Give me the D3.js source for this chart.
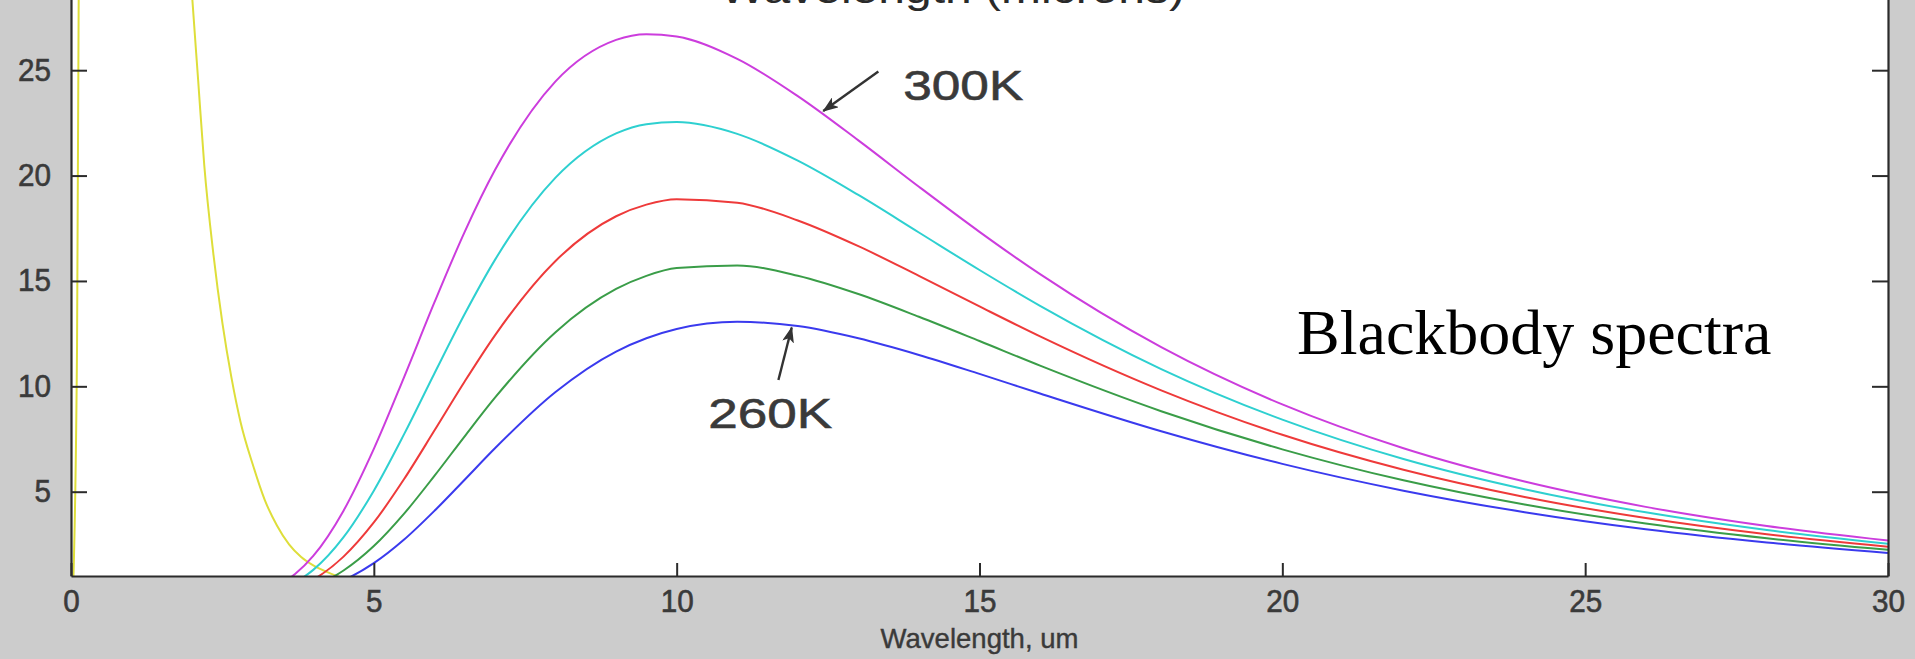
<!DOCTYPE html>
<html>
<head>
<meta charset="utf-8">
<script src="https://cdn.jsdelivr.net/npm/d3@7"></script>
<style>
  html, body { margin: 0; padding: 0; background: #cccccc; overflow: hidden; }
  svg { display: block; }
</style>
</head>
<body>
<div id="chart"></div>
<script>
// Longitudes de onda (um) compartidas por las curvas de cuerpo negro
const wavelength = [3.4, 3.7, 4, 4.5, 5, 5.5, 6, 6.5, 7, 8, 9, 9.5, 10, 11, 12, 13, 14, 15, 16, 18, 20, 22, 24, 26, 28, 30];

// Radiancia, una lista por temperatura
const t300 = [0.53, 1.09, 1.95, 4.10, 7.03, 10.44, 13.98, 17.33, 20.26, 24.47, 26.44, 26.71, 26.60, 25.54, 23.77, 21.67, 19.47, 17.33, 15.32, 11.86, 9.14, 7.06, 5.48, 4.28, 3.37, 2.68];
const t290 = [0.33, 0.70, 1.29, 2.84, 5.05, 7.73, 10.61, 13.43, 16.00, 19.90, 22.00, 22.44, 22.54, 21.98, 20.71, 19.08, 17.30, 15.52, 13.82, 10.82, 8.42, 6.55, 5.12, 4.02, 3.18, 2.53];
const t280 = [0.19, 0.43, 0.83, 1.92, 3.54, 5.60, 7.90, 10.23, 12.42, 15.95, 18.07, 18.62, 18.88, 18.71, 17.87, 16.65, 15.24, 13.79, 12.37, 9.81, 7.70, 6.04, 4.75, 3.75, 2.98, 2.39];
const t270 = [0.11, 0.26, 0.51, 1.26, 2.42, 3.96, 5.75, 7.63, 9.46, 12.57, 14.62, 15.24, 15.61, 15.73, 15.25, 14.38, 13.30, 12.15, 10.98, 8.82, 7.01, 5.54, 4.39, 3.49, 2.79, 2.24];
const t260 = [0.06, 0.15, 0.31, 0.80, 1.61, 2.73, 4.09, 5.57, 7.06, 9.73, 11.65, 12.28, 12.72, 13.06, 12.86, 12.28, 11.49, 10.59, 9.66, 7.87, 6.32, 5.05, 4.03, 3.22, 2.59, 2.09];

// Curva amarilla (sol), sale por arriba y vuelve a bajar
const solarWavelength = [0.03, 0.1, 0.16, 1.0, 1.7, 1.9, 2.0, 2.1, 2.2, 2.35, 2.5, 2.65, 2.8, 3.0, 3.2, 3.4, 3.6, 3.8, 4.0, 4.3, 4.6];
const solarValue = [0, 12, 45, 60, 45, 33, 28.5, 24.5, 20.5, 16.3, 13.0, 10.4, 8.3, 6.3, 4.6, 3.4, 2.5, 1.9, 1.5, 1.1, 0.8];

// Ejes
const xTicks = [0, 5, 10, 15, 20, 25, 30];
const yTicks = [5, 10, 15, 20, 25];

const width = 1915;
const height = 659;
const plot = { left: 71, right: 1888, bottom: 576 };
const font = "'Liberation Sans', Arial, sans-serif";

const x = d3.scaleLinear().domain([0, 30]).range([plot.left, plot.right]);
const y = d3.scaleLinear().domain([1, 30]).range([plot.bottom, plot.bottom - 29 * 21.075]);

const svg = d3.select("#chart")
    .append("svg")
    .attr("width", width)
    .attr("height", height);

svg.append("rect")
    .attr("width", width).attr("height", height)
    .attr("fill", "#cccccc");

// Area blanca del grafico
svg.append("rect")
    .attr("x", plot.left).attr("y", y(30))
    .attr("width", plot.right - plot.left)
    .attr("height", plot.bottom - y(30))
    .attr("fill", "#ffffff");

svg.append("clipPath").attr("id", "clip")
    .append("rect")
    .attr("x", plot.left).attr("y", y(30))
    .attr("width", plot.right - plot.left)
    .attr("height", plot.bottom - y(30));

const line = d3.line()
    .x(d => x(d[0]))
    .y(d => y(d[1]))
    .curve(d3.curveMonotoneX);

const series = [
    { values: solarValue, lambda: solarWavelength, color: '#dede3a' },
    { values: t260, lambda: wavelength, color: '#3a3aee' },
    { values: t270, lambda: wavelength, color: '#3a9d48' },
    { values: t280, lambda: wavelength, color: '#ee3a3a' },
    { values: t290, lambda: wavelength, color: '#2ed0d0' },
    { values: t300, lambda: wavelength, color: '#cc3ddd' }
];

const curves = svg.append("g").attr("clip-path", "url(#clip)");
series.forEach(s => {
    curves.append("path")
        .datum(s.lambda.map((l, i) => [l, s.values[i]]))
        .attr("d", line)
        .attr("fill", "none")
        .attr("stroke", s.color)
        .attr("stroke-width", 2);
});

// Titulo cortado arriba (solo se ve la parte de abajo)
svg.append("text")
    .attr("x", 720).attr("y", 3)
    .attr("textLength", 465)
    .attr("lengthAdjust", "spacingAndGlyphs")
    .style("font-family", font)
    .style("font-size", "40px")
    .attr("fill", "#2a2a2a")
    .text("Wavelength (microns)");

// Ejes con marcas hacia dentro
const axisStyle = g => {
    g.select(".domain").attr("stroke", "#2b2b2b").attr("stroke-width", 2.2);
    g.selectAll(".tick line").attr("stroke", "#2b2b2b").attr("stroke-width", 2);
    g.selectAll(".tick text")
        .attr("fill", "#3a3a3a")
        .attr("stroke", "#3a3a3a")
        .attr("stroke-width", 0.6)
        .attr("textLength", function () { return this.textContent.length * 16.5; })
        .attr("lengthAdjust", "spacingAndGlyphs")
        .style("font-family", font)
        .style("font-size", "31px");
};

svg.append("g")
    .attr("transform", `translate(0,${plot.bottom})`)
    .call(d3.axisBottom(x).tickValues(xTicks).tickSizeInner(-13).tickSizeOuter(0).tickPadding(14))
    .call(axisStyle);

svg.append("g")
    .attr("transform", `translate(${plot.left},0)`)
    .call(d3.axisLeft(y).tickValues(yTicks).tickSizeInner(-16).tickSizeOuter(0).tickPadding(20))
    .call(axisStyle);

svg.append("g")
    .attr("transform", `translate(${plot.right},0)`)
    .call(d3.axisRight(y).tickValues(yTicks).tickSizeInner(-16).tickSizeOuter(0).tickFormat(""))
    .call(axisStyle);

svg.append("text")
    .attr("x", (plot.left + plot.right) / 2).attr("y", 648)
    .attr("text-anchor", "middle")
    .attr("textLength", 198)
    .attr("lengthAdjust", "spacingAndGlyphs")
    .attr("fill", "#3a3a3a")
    .attr("stroke", "#3a3a3a")
    .attr("stroke-width", 0.4)
    .style("font-family", font)
    .style("font-size", "28px")
    .text("Wavelength, um");

// Flechas y etiquetas de temperatura
svg.append("defs").append("marker")
    .attr("id", "head")
    .attr("markerUnits", "userSpaceOnUse")
    .attr("markerWidth", 16).attr("markerHeight", 12)
    .attr("refX", 15).attr("refY", 6)
    .attr("orient", "auto")
    .append("path")
    .attr("d", "M0,0 L16,6 L0,12 L4,6 Z")
    .attr("fill", "#333333");

const notes = [
    { text: '300K', tx: 13.74, ty: 23.6, from: [13.33, 24.94], to: [12.42, 23.06], w: 120 },
    { text: '260K', tx: 10.52, ty: 8.02, from: [11.68, 10.3], to: [11.9, 12.79], w: 124 }
];

notes.forEach(n => {
    svg.append("line")
        .attr("x1", x(n.from[0])).attr("y1", y(n.from[1]))
        .attr("x2", x(n.to[0])).attr("y2", y(n.to[1]))
        .attr("stroke", "#333333")
        .attr("stroke-width", 2.4)
        .attr("marker-end", "url(#head)");
    svg.append("text")
        .attr("x", x(n.tx)).attr("y", y(n.ty))
        .attr("textLength", n.w)
        .attr("lengthAdjust", "spacingAndGlyphs")
        .attr("fill", "#3a3a3a")
        .attr("stroke", "#3a3a3a")
        .attr("stroke-width", 0.6)
        .style("font-family", font)
        .style("font-size", "42px")
        .text(n.text);
});

svg.append("text")
    .attr("x", 1297).attr("y", 354)
    .attr("fill", "#000000")
    .style("font-family", "'Liberation Serif', 'Times New Roman', serif")
    .style("font-size", "64px")
    .text("Blackbody spectra");
</script>
</body>
</html>
